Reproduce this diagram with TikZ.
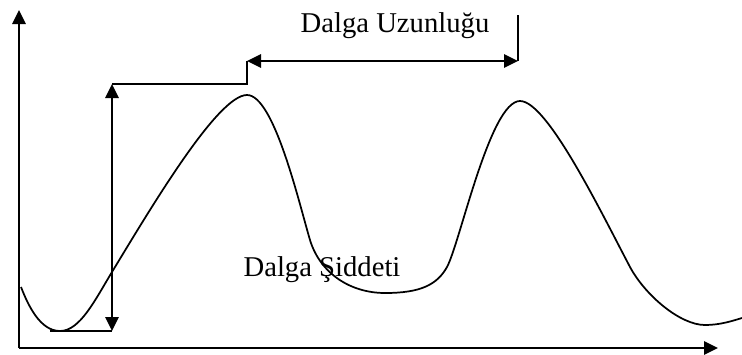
\documentclass[tikz,border=0pt]{standalone}
\usepackage{fontspec}
\setmainfont{Liberation Serif}
\usetikzlibrary{arrows.meta}
\begin{document}
\begin{tikzpicture}[x=0.75pt,y=-0.75pt,
  line/.style={line width=1.3pt},
  arr/.style={line width=1.3pt,-{Triangle[length=10.5pt,width=10pt]}},
  darr/.style={line width=1.3pt,{Triangle[length=10.5pt,width=10pt]}-{Triangle[length=10.5pt,width=10pt]}},
  lbl/.style={font=\fontsize{21.5}{24}\selectfont, inner sep=0pt, anchor=base}]
\useasboundingbox (0,0) rectangle (742,354);
% axes
\coordinate (o) at (19,348);
\coordinate (ytop) at (19,10);
\coordinate (xend) at (718,348);
\draw[arr] (o) -- (ytop);
\draw[arr] (o) -- (xend);
% amplitude arrow
\coordinate (at) at (112,84);
\coordinate (ab) at (112,331);
\coordinate (abl) at (50,331);
\coordinate (step1) at (247,84);
\coordinate (wl) at (247,61);
\coordinate (wr) at (518,61);
\coordinate (wtick) at (518,15);
\draw[darr] (at) -- (ab);
\draw[line] (abl) -- (ab);
\draw[line] (at) -- (step1) -- (wl);
\draw[darr] (wl) -- (wr);
\draw[line] (wr) -- (wtick);
% wave
\coordinate (w0) at (21,287);
\coordinate (w1) at (60,331);
\coordinate (w2) at (112,272);
\coordinate (w3) at (247,95);
\coordinate (w4) at (310,240);
\coordinate (w5) at (385,293);
\coordinate (w6) at (447,267);
\coordinate (w7) at (520,101);
\coordinate (w8) at (630,267);
\coordinate (w9) at (705,325);
\coordinate (w10) at (742,318);
\draw[line]
 (w0) .. controls (28,305) and (40,331) .. (w1)
      .. controls (80,331) and (95,300) .. (w2)
      .. controls (152,206) and (218,95) .. (w3)
      .. controls (274,95) and (299,203) .. (w4)
      .. controls (320,273) and (350,293) .. (w5)
      .. controls (420,293) and (437,285) .. (w6)
      .. controls (460,243) and (490,101) .. (w7)
      .. controls (547,101) and (600,210) .. (w8)
      .. controls (645,295) and (680,325) .. (w9)
      .. controls (720,325) and (732,321) .. (w10);
% labels
\node[lbl] (tw) at (395,32) {Dalga Uzunluğu};
\node[lbl] (ta) at (322,276) {Dalga Şiddeti};
\end{tikzpicture}
\end{document}
